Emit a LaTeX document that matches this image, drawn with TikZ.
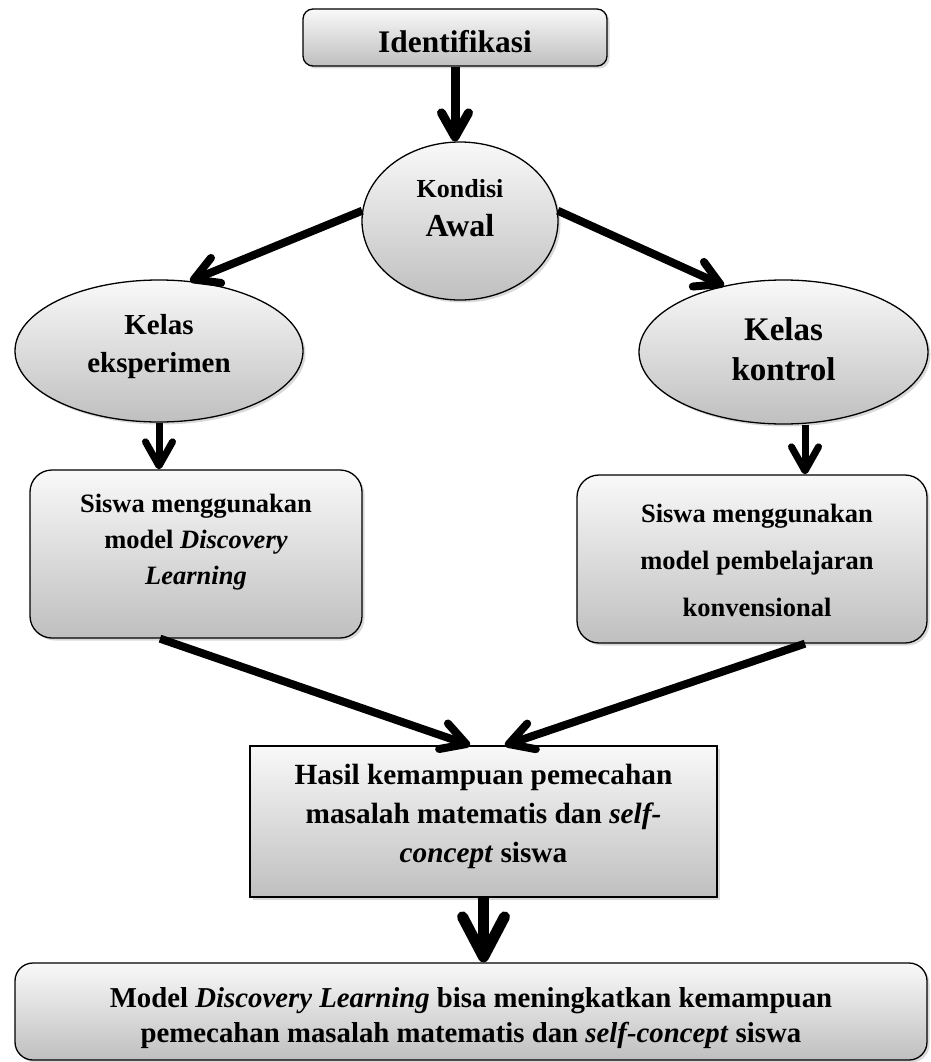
\documentclass[tikz,border=0pt]{standalone}
\usepackage{fontspec}
\setmainfont{Liberation Serif}
\usepackage{tikz}
\usetikzlibrary{shapes.geometric, arrows.meta, shadows}

\begin{document}
\begin{tikzpicture}[x=1pt, y=-1pt,
  gr/.style={draw=black, line width=1.3pt, inner sep=0pt, top color=gray!5, bottom color=gray!50,
    drop shadow={shadow xshift=2.5pt, shadow yshift=-2.5pt, opacity=0.3}},
  rb/.style={gr, rounded corners=#1},
  ov/.style={gr, ellipse},
  txt/.style={align=center, inner sep=0pt},
  arr/.style={line width=#1, -{Straight Barb[round, length=24pt, width=27pt]}},
  arr/.default=8pt,
  bigarr/.style={line width=11pt, -{Straight Barb[round, length=40pt, width=42pt]}}]
\useasboundingbox (0,0) rectangle (930,1062);

\node[rb=10pt, minimum width=304pt, minimum height=57pt] (ident) at (455,37.5) {};
\node[ov, minimum width=196pt, minimum height=158pt] (kondisi) at (460,221) {};
\node[ov, minimum width=288pt, minimum height=142pt] (eks) at (159,351) {};
\node[ov, minimum width=289pt, minimum height=144pt] (kon) at (783.5,352) {};
\node[rb=22pt, minimum width=332pt, minimum height=168pt] (sis1) at (196,554) {};
\node[rb=22pt, minimum width=350pt, minimum height=168pt] (sis2) at (752,559) {};
\node[gr, minimum width=467pt, minimum height=151pt] (hasil) at (483.5,821.5) {};
\node[rb=18pt, minimum width=912pt, minimum height=97pt] (model) at (471,1011.5) {};

\node[txt, font=\fontsize{31.4}{36}\selectfont\bfseries, yshift=-4.5pt] at (ident) {Identifikasi};
\node[txt, font=\fontsize{26}{39}\selectfont\bfseries, yshift=13.3pt] at (kondisi)
  {Kondisi\\{\fontsize{32}{39}\selectfont Awal}};
\node[txt, font=\fontsize{29}{38}\selectfont\bfseries, yshift=4pt] at (eks) {Kelas\\eksperimen};
\node[txt, font=\fontsize{33}{40}\selectfont\bfseries, yshift=3.2pt] at (kon) {Kelas\\kontrol};
\node[txt, font=\fontsize{26.5}{36}\selectfont\bfseries, yshift=11.5pt] at (sis1)
  {Siswa menggunakan\\model \textit{Discovery}\\\textit{Learning}};
\node[txt, font=\fontsize{26.5}{47}\selectfont\bfseries, yshift=-1pt, xshift=5pt] at (sis2)
  {Siswa menggunakan\\model pembelajaran\\konvensional};
\node[txt, font=\fontsize{29.3}{39}\selectfont\bfseries, yshift=5.5pt] at (hasil)
  {Hasil kemampuan pemecahan\\masalah matematis dan \textit{self-}\\\textit{concept} siswa};
\node[txt, font=\fontsize{28.8}{35}\selectfont\bfseries, yshift=-6.5pt] at (model)
  {Model \textit{Discovery Learning} bisa meningkatkan kemampuan\\pemecahan masalah matematis dan \textit{self-concept} siswa};

\draw[arr=9pt] (ident) -- (ident |- kondisi.north);
\draw[arr] (kondisi.174) -- (eks.66);
\draw[arr] (kondisi.6) -- (kon.132);
\draw[arr=7pt] (eks.south) -- ([xshift=-37pt]sis1.north);
\draw[arr=7pt] ([xshift=21.5pt]kon.south) -- ([xshift=53pt]sis2.north);
\draw[arr] ([xshift=-36pt]sis1.south) -- ([xshift=-13.5pt]hasil.north);
\draw[arr] ([xshift=53pt]sis2.south) -- ([xshift=21.5pt]hasil.north);
\draw[bigarr] (hasil.south) -- (hasil.south |- model.north);

\end{tikzpicture}
\end{document}
